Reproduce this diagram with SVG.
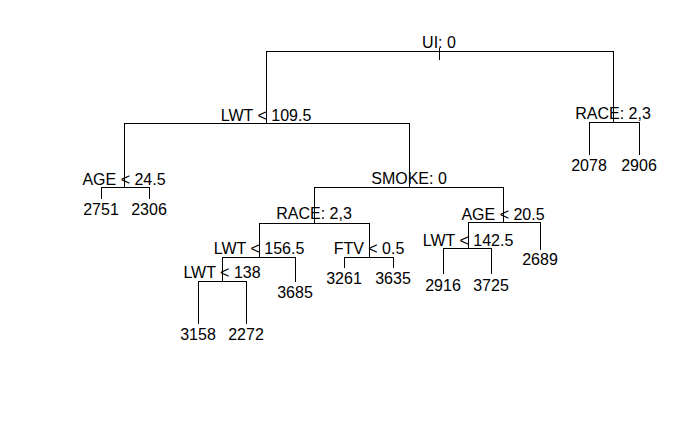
<svg xmlns="http://www.w3.org/2000/svg" width="700" height="432" viewBox="0 0 700 432">
  <style>
    .edge { fill: none; stroke: #000; stroke-width: 1; shape-rendering: crispEdges; }
    text { font-family: "Liberation Sans", Arial, sans-serif; font-size: 16px; fill: #000; text-anchor: middle; }
  </style>
  <rect width="700" height="432" fill="#fff"/>

  <!-- branches: each split is drawn as a bracket down to its two children -->
  <g id="connectors">
    <path class="edge" d="M439.5,47.5 V59.5"/>
    <path class="edge" d="M266.5,123.5 V51.5 H613.5 V122.5"/>
    <path class="edge" d="M124.5,187.5 V123.5 H409.5 V187.5"/>
    <path class="edge" d="M589.5,154.5 V122.5 H639.5 V154.5"/>
    <path class="edge" d="M101.5,198.5 V187.5 H149.5 V198.5"/>
    <path class="edge" d="M314.5,223.5 V187.5 H503.5 V222.5"/>
    <path class="edge" d="M259.5,257.5 V223.5 H369.5 V257.5"/>
    <path class="edge" d="M222.5,281.5 V257.5 H295.5 V281.5"/>
    <path class="edge" d="M198.5,323.5 V281.5 H246.5 V323.5"/>
    <path class="edge" d="M344.5,267.5 V257.5 H393.5 V267.5"/>
    <path class="edge" d="M468.5,248.5 V222.5 H540.5 V249.5"/>
    <path class="edge" d="M443.5,273.5 V248.5 H491.5 V273.5"/>
  </g>

  <!-- split nodes -->
  <g id="n-root"><text x="439" y="48">UI: 0</text></g>
  <g id="n-lwt-109"><text x="266" y="120.5">LWT &lt; 109.5</text></g>
  <g id="n-race-a"><text x="613" y="118.5">RACE: 2,3</text></g>
  <g id="n-age-24"><text x="124" y="184.5">AGE &lt; 24.5</text></g>
  <g id="n-smoke"><text x="409" y="184">SMOKE: 0</text></g>
  <g id="n-race-b"><text x="314" y="219">RACE: 2,3</text></g>
  <g id="n-lwt-156"><text x="259" y="254">LWT &lt; 156.5</text></g>
  <g id="n-lwt-138"><text x="222" y="278">LWT &lt; 138</text></g>
  <g id="n-ftv"><text x="369" y="253.5">FTV &lt; 0.5</text></g>
  <g id="n-age-20"><text x="503" y="220">AGE &lt; 20.5</text></g>
  <g id="n-lwt-142"><text x="468" y="245.5">LWT &lt; 142.5</text></g>

  <!-- leaves -->
  <g id="leaf-2078"><text x="589" y="170.5">2078</text></g>
  <g id="leaf-2906"><text x="639" y="170.5">2906</text></g>
  <g id="leaf-2751"><text x="101" y="214.5">2751</text></g>
  <g id="leaf-2306"><text x="149" y="214.5">2306</text></g>
  <g id="leaf-3685"><text x="295" y="297.5">3685</text></g>
  <g id="leaf-3158"><text x="198" y="339.5">3158</text></g>
  <g id="leaf-2272"><text x="246" y="339.5">2272</text></g>
  <g id="leaf-3261"><text x="344" y="283.5">3261</text></g>
  <g id="leaf-3635"><text x="393" y="283.5">3635</text></g>
  <g id="leaf-2689"><text x="540" y="265">2689</text></g>
  <g id="leaf-2916"><text x="443" y="290.5">2916</text></g>
  <g id="leaf-3725"><text x="491" y="290.5">3725</text></g>
</svg>
